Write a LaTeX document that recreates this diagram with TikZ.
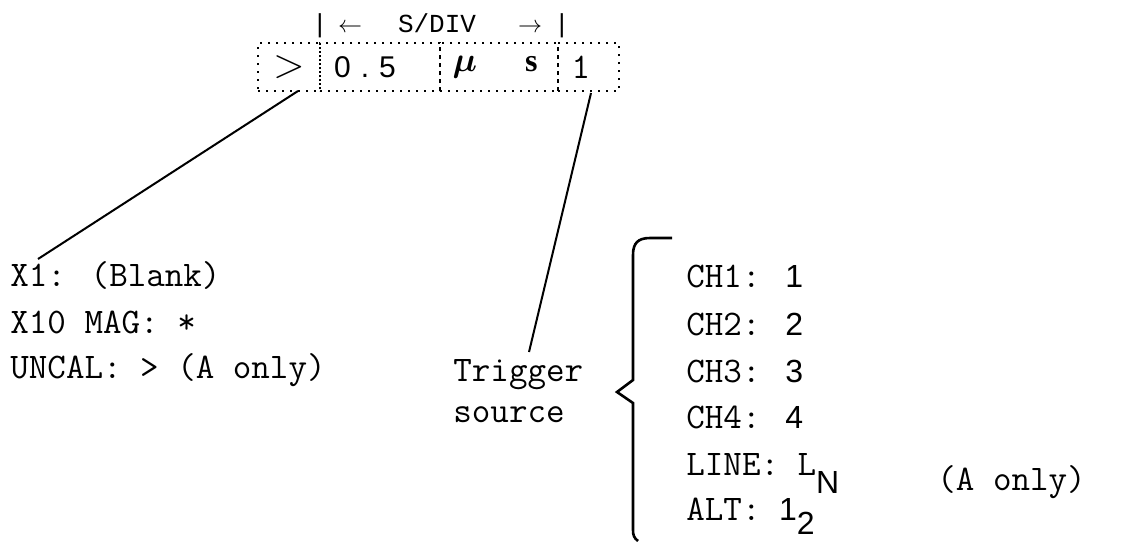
\documentclass[tikz,border=0pt]{standalone}
\usepackage{fontspec}
\newfontfamily\headfont{Liberation Mono}
\newfontfamily\valfont{Liberation Sans}
\newfontfamily\serifbf{Liberation Serif}
\usepackage{amsmath}
\usepackage{bm}
\usetikzlibrary{positioning,calc}

\newcommand{\val}[1]{{\valfont\fontsize{16}{18}\selectfont #1}}

\begin{document}
\begin{tikzpicture}[
    x=0.5pt, y=-0.5pt,
    font=\ttfamily\fontsize{18}{20}\selectfont,
    txt/.style={
        anchor=base west,
        inner sep=0pt
    },
    cell/.style={
        draw=black,
        line width=1pt,
        dash pattern=on 0.8pt off 3.2pt,
        minimum height=24pt,
        inner sep=0pt,
        align=center
    },
    head/.style={
        anchor=base,
        inner sep=0pt,
        font=\headfont\fontsize{13}{15}\selectfont
    },
    lead/.style={line width=1pt},
    curly/.style={line width=1.3pt}
]
\useasboundingbox (0,0) rectangle (1128,543);

% readout header
\node[head] (barl) at (320,32) {|};
\node[head] (arrl) at (350,32) {$\leftarrow$};
\node[head] (sdiv) at (437,32) {S/DIV};
\node[head] (arrr) at (530,32) {$\rightarrow$};
\node[head] (barr) at (562,32) {|};

% readout cells
\node[cell, minimum width=31pt] (cmag) at (289,67)
{\fontsize{20}{20}\selectfont$>$};
\node[cell, minimum width=60pt] (cval) at (380,67)
{\valfont\fontsize{15}{16}\selectfont 0\hspace{5pt}.\hspace{5pt}5\hspace{15pt}};
\node[cell, minimum width=59pt] (cunit) at (499,67)
{\fontsize{16}{18}\selectfont$\bm{\mu}$\hspace{24pt}{\serifbf\bfseries s}\hspace{4pt}};
\node[cell, minimum width=30.5pt] (csrc) at (588.5,67)
{1\hspace{7.5pt}};

% horizontal mode list
\node[txt] (xone) at (10,286) {X1: (Blank)};
\node[txt] (xten) at (10,333) {X10 MAG: *};
\node[txt] (uncal) at (10,378) {UNCAL: > (A only)};

% trigger source
\node[txt] (trig) at (453,381) {Trigger};
\node[txt] (srcword) at (453,422) {source};

\node[txt] (chone) at (686,287) {CH1: \val{1}};
\node[txt] (chtwo) at (686,335) {CH2: \val{2}};
\node[txt] (chthree) at (686,382) {CH3: \val{3}};
\node[txt] (chfour) at (686,428) {CH4: \val{4}};
\node[txt] (line) at (686,475) {LINE: L\raisebox{-9pt}{\val{N}}};
\node[txt] (alt) at (686,520) {ALT: \val{1\raisebox{-7pt}{2}}};
\node[txt] (aonly) at (937,490) {(A only)};

\draw[curly] (672,238) -- (650,238)
    .. controls (638,238) and (633,243) .. (633,255)
    -- (633,380) -- (617,392) -- (633,403) -- (633,530)
    .. controls (633,535) and (634,538) .. (638,541);

% leader lines
\draw[lead] ([shift={(9,-1)}]cmag.south) -- ([shift={(28,-27)}]xone.base west);
\draw[lead] ([shift={(2.5,1)}]csrc.south) -- ([shift={(76,-29)}]trig.base west);

\end{tikzpicture}
\end{document}
